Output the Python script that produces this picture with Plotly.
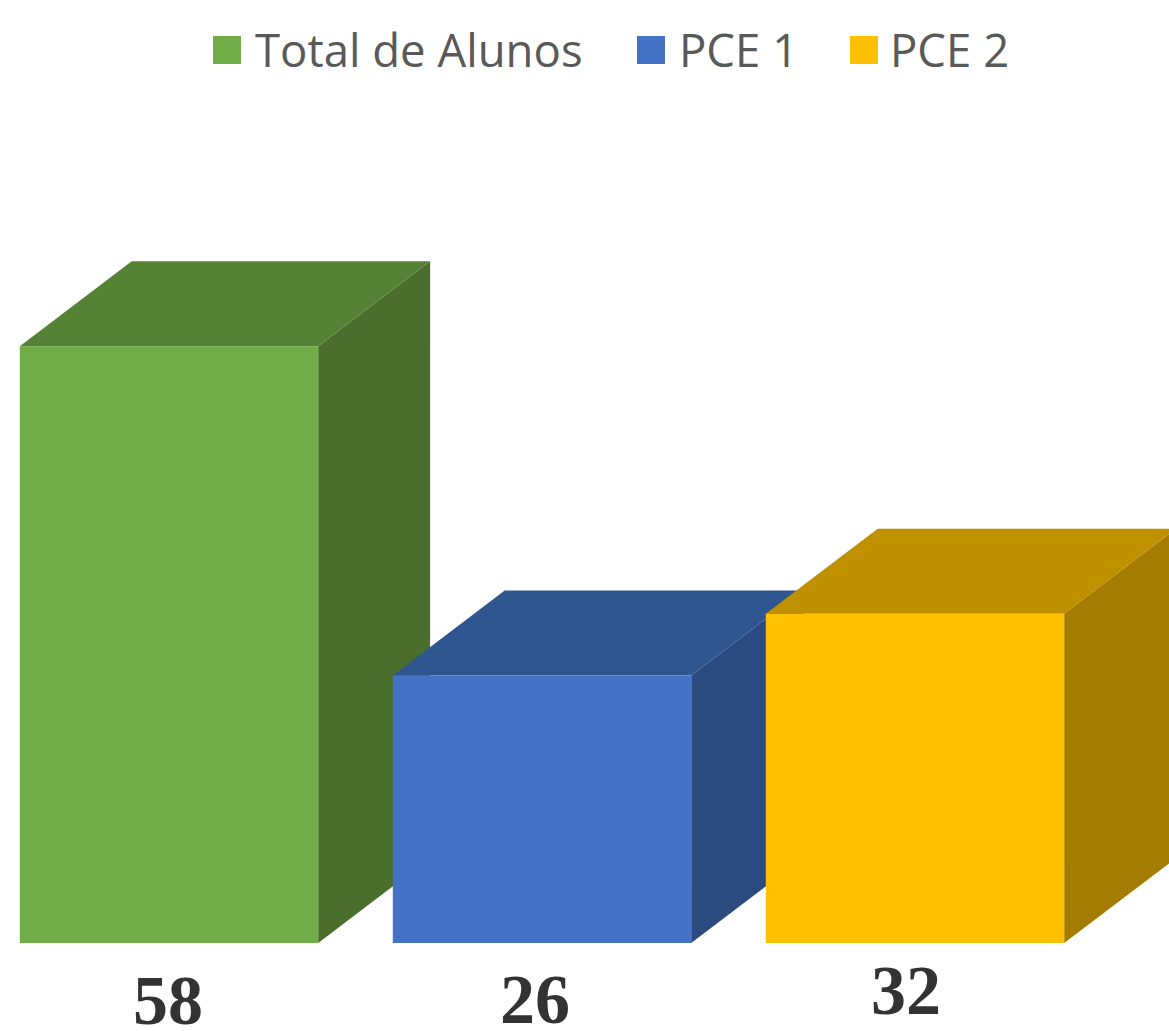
import plotly.graph_objects as go

categories = ["Total de Alunos", "PCE 1", "PCE 2"]
values = [58, 26, 32]
front_colors = ["#70AD47", "#4472C4", "#FFC000"]
side_colors = ["#4A6F2D", "#2B4A80", "#A47C00"]
top_colors = ["#558235", "#30568F", "#BF9000"]

BAR_W = 0.8
DX = 0.30
DY = 8.26

fig = go.Figure()


def face(xs, ys, color):
    fig.add_trace(go.Scatter(x=xs, y=ys, mode="lines", fill="toself", fillcolor=color,
                             line=dict(width=0), hoverinfo="skip", showlegend=False))


for i, v in enumerate(values):
    l, r = i - BAR_W / 2, i + BAR_W / 2
    face([r, r + DX, r + DX, r, r], [0, DY, v + DY, v, 0], side_colors[i])
    face([l, r, r + DX, l + DX, l], [v, v, v + DY, v + DY, v], top_colors[i])
    face([l, r, r, l, l], [0, 0, v, v, 0], front_colors[i])

# value labels
label_x = [-0.003, 0.98, 1.977]
label_y = [-5.5, -5.4, -4.6]
annotations = []
for i, v in enumerate(values):
    annotations.append(dict(x=label_x[i], y=label_y[i], xref="x", yref="y", text=f"<b>{v}</b>", showarrow=False,
                            height=56,
                            font=dict(family="Liberation Serif", size=70, color="#333333")))

# legend
swatch_px = [227, 651, 864]
text_px = [253, 677, 888]
for i, c in enumerate(categories):
    fig.add_trace(go.Scatter(x=[(swatch_px[i] - 169) / 373], y=[(943 - 50) / 10.29], mode="markers",
                             marker=dict(symbol="square", size=28, color=front_colors[i]),
                             hoverinfo="skip", showlegend=False))
    annotations.append(dict(x=(text_px[i] - 169) / 373, y=(943 - 49) / 10.29, xref="x", yref="y", text=c,
                            showarrow=False, xanchor="left",
                            font=dict(family="Open Sans", size=45.5, color="#595959")))

fig.update_layout(
    width=1169, height=1031, margin=dict(l=0, r=0, t=0, b=0),
    paper_bgcolor="#FFFFFF", plot_bgcolor="#FFFFFF", showlegend=False,
    xaxis=dict(range=[-169 / 373, 1000 / 373], visible=False, fixedrange=True),
    yaxis=dict(range=[-88 / 10.29, 943 / 10.29], visible=False, fixedrange=True),
    annotations=annotations,
)
fig.write_html("out.html", config=dict(displayModeBar=False),
               post_script="document.body.style.margin='0';document.documentElement.style.overflow='hidden';")
